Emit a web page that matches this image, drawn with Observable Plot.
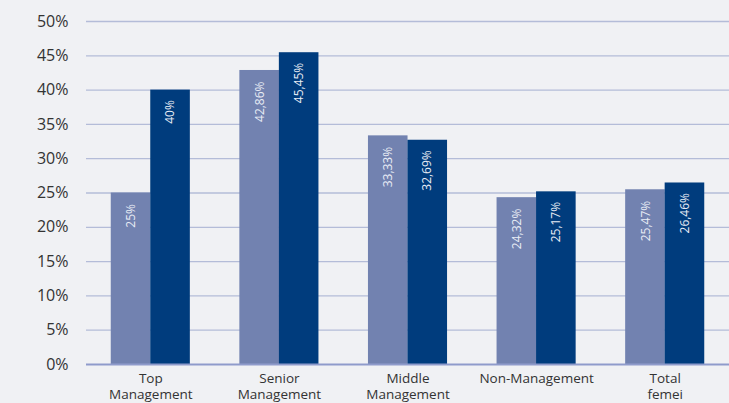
<!DOCTYPE html>
<html>
<head>
<meta charset="utf-8">
<script src="https://cdn.jsdelivr.net/npm/d3@7"></script>
<script src="https://cdn.jsdelivr.net/npm/@observablehq/plot@0.6"></script>
<style>
  html, body { margin: 0; padding: 0; background: #f0f1f4; }
  #chart svg { display: block; }
</style>
</head>
<body>
<div id="chart"></div>
<script>
const categories = ["Top\nManagement", "Senior\nManagement", "Middle\nManagement", "Non-Management", "Total\nfemei"];
const seriesA = [25, 42.86, 33.33, 24.32, 25.47];
const seriesB = [40, 45.45, 32.69, 25.17, 26.46];
const labelsA = ["25%", "42,86%", "33,33%", "24,32%", "25,47%"];
const labelsB = ["40%", "45,45%", "32,69%", "25,17%", "26,46%"];
const yTicks = [0, 5, 10, 15, 20, 25, 30, 35, 40, 45, 50];

const dataA = categories.map((c, i) => ({cat: c, value: seriesA[i], label: labelsA[i]}));
const dataB = categories.map((c, i) => ({cat: c, value: seriesB[i], label: labelsB[i]}));

const half = 39.5;

const chart = Plot.plot({
  width: 729,
  height: 403,
  marginLeft: 86,
  marginRight: 0,
  marginTop: 21,
  marginBottom: 39,
  style: {background: "#f0f1f4", fontFamily: "'Open Sans', sans-serif", color: "#333"},
  x: {domain: categories, paddingInner: 0.385, paddingOuter: 0.1925, round: false, label: null},
  y: {domain: [0, 50], label: null},
  marks: [
    Plot.ruleY(yTicks.filter(d => d > 0), {stroke: "#b4bcd8", strokeWidth: 1.3}),
    Plot.barY(dataA, {x: "cat", y: "value", fill: "#7282b0", insetRight: half}),
    Plot.barY(dataB, {x: "cat", y: "value", fill: "#003c7d", insetLeft: half}),
    Plot.ruleY([0], {stroke: "#8f9bcb", strokeWidth: 2}),
    Plot.text(dataA, {x: "cat", y: "value", text: "label", rotate: -90, textAnchor: "end", lineAnchor: "middle", dx: -19.5, dy: 11, fill: "#e8ecf5", fontSize: 12}),
    Plot.text(dataB, {x: "cat", y: "value", text: "label", rotate: -90, textAnchor: "end", lineAnchor: "middle", dx: 19.5, dy: 10, fill: "#e8ecf5", fontSize: 12}),
    Plot.axisY({ticks: yTicks, tickFormat: d => d + "%", tickSize: 0, tickPadding: 18, fontSize: 16, fill: "#333"}),
    Plot.axisX({tickSize: 0, tickPadding: 7, fontSize: 13.5, fill: "#333", lineHeight: 1.2})
  ]
});
document.getElementById("chart").appendChild(chart);
</script>
</body>
</html>
